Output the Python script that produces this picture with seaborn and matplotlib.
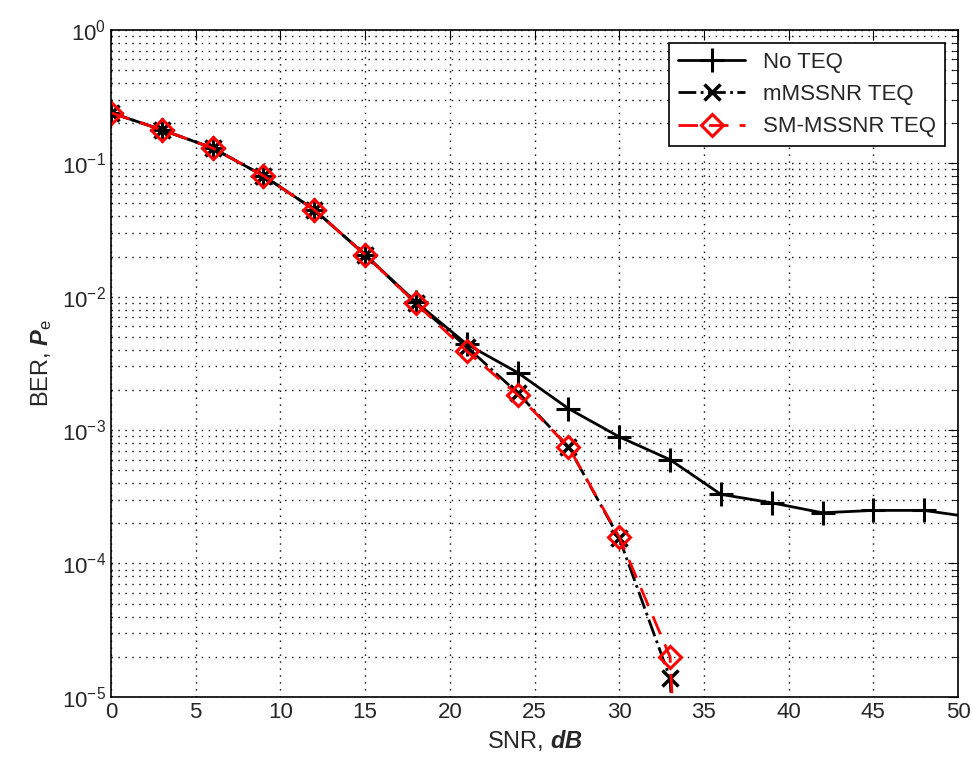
import numpy as np
import pandas as pd
import matplotlib
matplotlib.use("Agg")
import matplotlib.pyplot as plt
import seaborn as sns

# ================= DATA =================
snr_no = [0, 3, 6, 9, 12, 15, 18, 21, 24, 27, 30, 33, 36, 39, 42, 45, 48, 50]
ber_no = [0.239, 0.178, 0.13, 0.0805, 0.0448, 0.0206, 0.0091, 0.0044, 0.0027,
          0.00145, 0.00089, 0.0006, 0.00033, 0.000285, 0.00024, 0.00025, 0.00025, 0.00023]
mark_no = list(range(17))  # no marker at 50

snr_teq = [0, 3, 6, 9, 12, 15, 18, 21, 24, 27, 30, 33, 36]
ber_mm = [0.239, 0.178, 0.13, 0.0805, 0.0448, 0.0206, 0.0089, 0.0042, 0.0019,
          0.00075, 0.000155, 1.38e-5, 1e-12]
ber_sm = [0.239, 0.178, 0.13, 0.0805, 0.0448, 0.0206, 0.0089, 0.0039, 0.00184,
          0.00075, 0.000158, 2.0e-5, 1e-12]
mark_teq = list(range(12))

# ================= STYLE =================
sns.set_style("white")
plt.rcParams["font.family"] = ["Liberation Sans", "DejaVu Sans"]
plt.rcParams["mathtext.fontset"] = "custom"
plt.rcParams["mathtext.rm"] = "Liberation Sans"
plt.rcParams["mathtext.it"] = "Liberation Sans:italic"
plt.rcParams["mathtext.bf"] = "Liberation Sans:bold"
plt.rcParams["mathtext.bfit"] = "Liberation Sans:bold:italic"

fig = plt.figure(figsize=(9.74, 7.65), dpi=100)
ax = fig.add_axes([0.114, 0.089, 0.8696, 0.872])

styles = [
    (snr_no, ber_no, mark_no, "No TEQ",
     dict(color="black", ls="-", marker="+", ms=17, mew=2.2, mfc="none", mec="black")),
    (snr_teq, ber_mm, mark_teq, "mMSSNR TEQ",
     dict(color="black", ls="-.", marker="x", ms=11, mew=2.5, mfc="none", mec="black")),
    (snr_teq, ber_sm, mark_teq, "SM-MSSNR TEQ",
     dict(color="red", ls=(0, (7, 4)), marker="D", ms=11, mew=2.2, mfc="none", mec="red")),
]

for x, y, mk, name, st in styles:
    sns.lineplot(x=x, y=y, ax=ax, label=name, color=st["color"])
    ln = ax.lines[-1]
    ln.set_linestyle(st["ls"])
    ln.set_linewidth(2)
    ln.set_marker(st["marker"])
    ln.set_markersize(st["ms"])
    ln.set_markeredgewidth(st["mew"])
    ln.set_markerfacecolor(st["mfc"])
    ln.set_markeredgecolor(st["mec"])
    ln.set_markevery(mk)

ax.set_yscale("log")
ax.set_xlim(0, 50)
ax.set_ylim(1e-5, 1)
ax.set_xticks(range(0, 51, 5))

ax.grid(True, which="major", axis="both", color="black", linestyle=(0, (1, 4)), lw=1)
ax.grid(True, which="minor", axis="y", color="black", linestyle=(0, (1, 4)), lw=1)
ax.tick_params(which="both", direction="in", top=True, right=True, labelsize=16,
               color="black")
ax.tick_params(which="major", length=7)
ax.tick_params(which="minor", length=4)
for s in ax.spines.values():
    s.set_color("black")
    s.set_linewidth(1.2)

ax.set_xlabel(r"SNR, $\mathbfit{dB}$", fontsize=17, labelpad=4)
ax.set_ylabel(r"BER, $\mathbfit{P}_{\mathrm{e}}$", fontsize=17, labelpad=6)

handles = ax.lines[:3]
leg = ax.legend(handles=handles, labels=[s[3] for s in styles], loc="upper right",
                fontsize=16, frameon=True, fancybox=False, framealpha=1,
                edgecolor="black", handlelength=3.0, borderaxespad=0.6)
leg.get_frame().set_linewidth(1.2)

fig.savefig("out.png", dpi=100)
